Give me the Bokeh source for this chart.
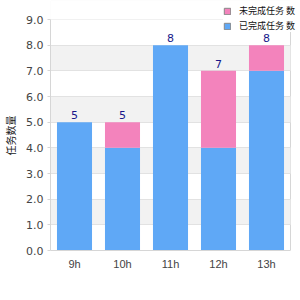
from bokeh.plotting import figure
from bokeh.models import (ColumnDataSource, FixedTicker, NumeralTickFormatter,
                          Legend, LegendItem, Range1d, BoxAnnotation)
from bokeh.core.properties import value
from bokeh.embed import file_html
from bokeh.resources import INLINE

hours = ["9h", "10h", "11h", "12h", "13h"]
done = [5, 4, 8, 4, 7]
pending = [0, 1, 0, 3, 1]
series_names = ["未完成任务 数", "已完成任务 数"]
y_label = "任务数量"
y_ticks = [0, 1, 2, 3, 4, 5, 6, 7, 8, 9]

BLUE = "#5fa8f6"
PINK = "#f383bc"
GRID = "#e2e2e2"
AXIS = "#d6d6d6"

n = len(hours)
ymax = y_ticks[-1]
xs = [i + 0.5 for i in range(n)]
totals = [a + b for a, b in zip(done, pending)]
src = ColumnDataSource(dict(x=xs, done=done, pending=pending, total=totals,
                            lbl=[str(t) for t in totals]))

# frame: left 50, bottom 250, extends to top/right edge so the legend can overlap
FRAME_W, FRAME_H = 250, 250
PLOT_W, PLOT_H = 240, 231
p = figure(x_range=Range1d(0, n * FRAME_W / PLOT_W),
           y_range=Range1d(0, ymax * FRAME_H / PLOT_H),
           width=300, height=300, output_backend="svg", toolbar_location=None,
           min_border_left=50, min_border_right=0, min_border_top=0,
           min_border_bottom=50)

# y grid with alternating bands, bounded to the plot box
p.ygrid.ticker = FixedTicker(ticks=y_ticks)
p.ygrid.grid_line_color = GRID
p.ygrid.band_fill_color = "#f2f2f2"
p.ygrid.band_fill_alpha = 1
p.ygrid.bounds = (0, ymax)
p.ygrid.cross_bounds = (0, n)
p.ygrid.level = "image"
# right border of the plot box
p.xgrid.ticker = FixedTicker(ticks=[n])
p.xgrid.grid_line_color = AXIS
p.xgrid.cross_bounds = (0, ymax)
p.xgrid.level = "image"

# blank the area above the plot box
p.add_layout(BoxAnnotation(bottom=ymax, fill_color="white", fill_alpha=1,
                           line_color=None, level="underlay"))

p.vbar_stack(["done", "pending"], x="x", width=0.73, source=src,
             color=[BLUE, PINK], line_color=None)

p.text(x="x", y="total", text="lbl", source=src, text_align="center",
       text_baseline="bottom", y_offset=-3, text_color="#18188a",
       text_font=value("DejaVu Sans"), text_font_size="11px")

p.yaxis.ticker = FixedTicker(ticks=y_ticks)
p.yaxis.formatter = NumeralTickFormatter(format="0.0")
p.yaxis.bounds = (0, ymax)
p.xaxis.ticker = FixedTicker(ticks=xs)
p.xaxis.major_label_overrides = {x: h for x, h in zip(xs, hours)}
p.xaxis.bounds = (0, n)

for ax in (p.xaxis[0], p.yaxis[0]):
    ax.axis_line_color = AXIS
    ax.major_tick_line_color = AXIS
    ax.minor_tick_line_color = None
    ax.major_label_text_color = "#444444"
    ax.major_label_text_font_size = "11px"

p.xaxis.major_tick_line_color = None
p.xaxis.major_tick_out = 0
p.xaxis.major_tick_in = 0
p.xaxis.major_label_text_font = "Liberation Sans"
p.xaxis.major_label_standoff = 7
p.yaxis.major_label_text_font = "DejaVu Sans"
p.yaxis.major_tick_in = 0
p.yaxis.major_tick_out = 3
p.yaxis.major_label_standoff = 4
p.yaxis.axis_label = y_label + "\u3000\u3000"
p.yaxis.axis_label_text_font = "Noto Sans CJK SC"
p.yaxis.axis_label_text_font_size = "10px"
p.yaxis.axis_label_text_font_style = "normal"
p.yaxis.axis_label_text_color = "#222222"
p.yaxis.axis_label_standoff = 5

p.outline_line_color = None

# legend swatches (zero-size marks, only their legend glyphs show)
r_p = p.vbar(x="x", top=0, bottom=0, width=0, source=src,
             fill_color=PINK, line_color="#888888")
r_b = p.vbar(x="x", top=0, bottom=0, width=0, source=src,
             fill_color=BLUE, line_color="#888888")
legend = Legend(items=[LegendItem(label=series_names[0], renderers=[r_p]),
                       LegendItem(label=series_names[1], renderers=[r_b])],
                location=(173, 218), background_fill_color="white", background_fill_alpha=1,
                border_line_color=None,
                label_text_font_size="9px", label_text_font="Noto Sans CJK SC",
                label_text_color="#111111",
                glyph_width=8, glyph_height=8, spacing=2, padding=3, margin=0,
                label_standoff=8, label_height=12)
p.add_layout(legend, "center")

open("out.html", "w").write(file_html(p, INLINE))
